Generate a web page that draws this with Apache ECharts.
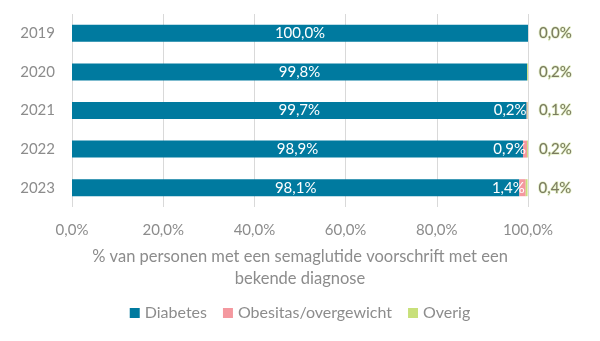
<!DOCTYPE html>
<html><head><meta charset="utf-8">
<script src="https://cdn.jsdelivr.net/npm/echarts@6/dist/echarts.min.js"></script>
<style>html,body{margin:0;padding:0;background:#fff}#c{width:600px;height:341px}</style>
</head><body><div id="c"></div>
<script>
const categories = ['2019','2020','2021','2022','2023'];
const diabetes = [100.0, 99.8, 99.7, 98.9, 98.1];
const obesitas = [0.0, 0.0, 0.2, 0.9, 1.4];
const overig = [0.0, 0.2, 0.1, 0.2, 0.4];
const seriesNames = ['Diabetes','Obesitas/overgewicht','Overig'];
const axisTitle = '% van personen met een semaglutide voorschrift met een\nbekende diagnose';

const FONT = 'Lato';
const fmt = v => v.toFixed(1).replace('.', ',') + '%';
const chart = echarts.init(document.getElementById('c'));
chart.setOption({
  animation: false,
  textStyle: {fontFamily: FONT},
  grid: {left: 72, right: 72, top: 14, height: 193, containLabel: false},
  xAxis: {
    type: 'value', min: 0, max: 100, interval: 20,
    axisLabel: {formatter: v => v.toFixed(1).replace('.', ',') + '%', color: '#8c8c8c', fontSize: 15, margin: 16, fontFamily: FONT},
    splitLine: {lineStyle: {color: '#d9d9d9'}},
    axisLine: {show: false}, axisTick: {show: false},
    name: axisTitle, nameLocation: 'middle', nameGap: 39,
    nameTextStyle: {color: '#8c8c8c', fontSize: 16.5, lineHeight: 22, fontFamily: FONT}
  },
  yAxis: {
    type: 'category', data: categories, inverse: true,
    axisLabel: {color: '#8c8c8c', fontSize: 15, margin: 17, fontFamily: FONT},
    axisLine: {show: false}, axisTick: {show: false}
  },
  legend: {
    bottom: 15, left: 'center', itemWidth: 10, itemHeight: 10, itemGap: 16,
    icon: 'rect',
    textStyle: {color: '#8c8c8c', fontSize: 16, fontFamily: FONT},
    data: seriesNames
  },
  series: [
    {name: seriesNames[0], type: 'bar', stack: 's', barWidth: 17, data: diabetes,
     itemStyle: {color: '#007A9F'},
     label: {show: true, position: 'inside', color: '#fff', fontSize: 15, fontFamily: FONT, formatter: p => fmt(p.value)}},
    {name: seriesNames[1], type: 'bar', stack: 's', barWidth: 17, data: obesitas,
     itemStyle: {color: '#F4989F'},
     label: {show: true, position: 'insideRight', distance: 1, color: '#fff', fontSize: 15, fontFamily: FONT,
             formatter: p => p.value > 0 ? fmt(p.value) : ''}},
    {name: seriesNames[2], type: 'bar', stack: 's', barWidth: 17, data: overig,
     itemStyle: {color: '#C8E07A'},
     label: {show: true, position: 'right', distance: 11, color: '#7a7a60', fontSize: 15, fontFamily: FONT,
             textBorderColor: 'rgba(210,230,160,0.6)', textBorderWidth: 1.5,
             formatter: p => fmt(p.value)}}
  ]
});
</script></body></html>
